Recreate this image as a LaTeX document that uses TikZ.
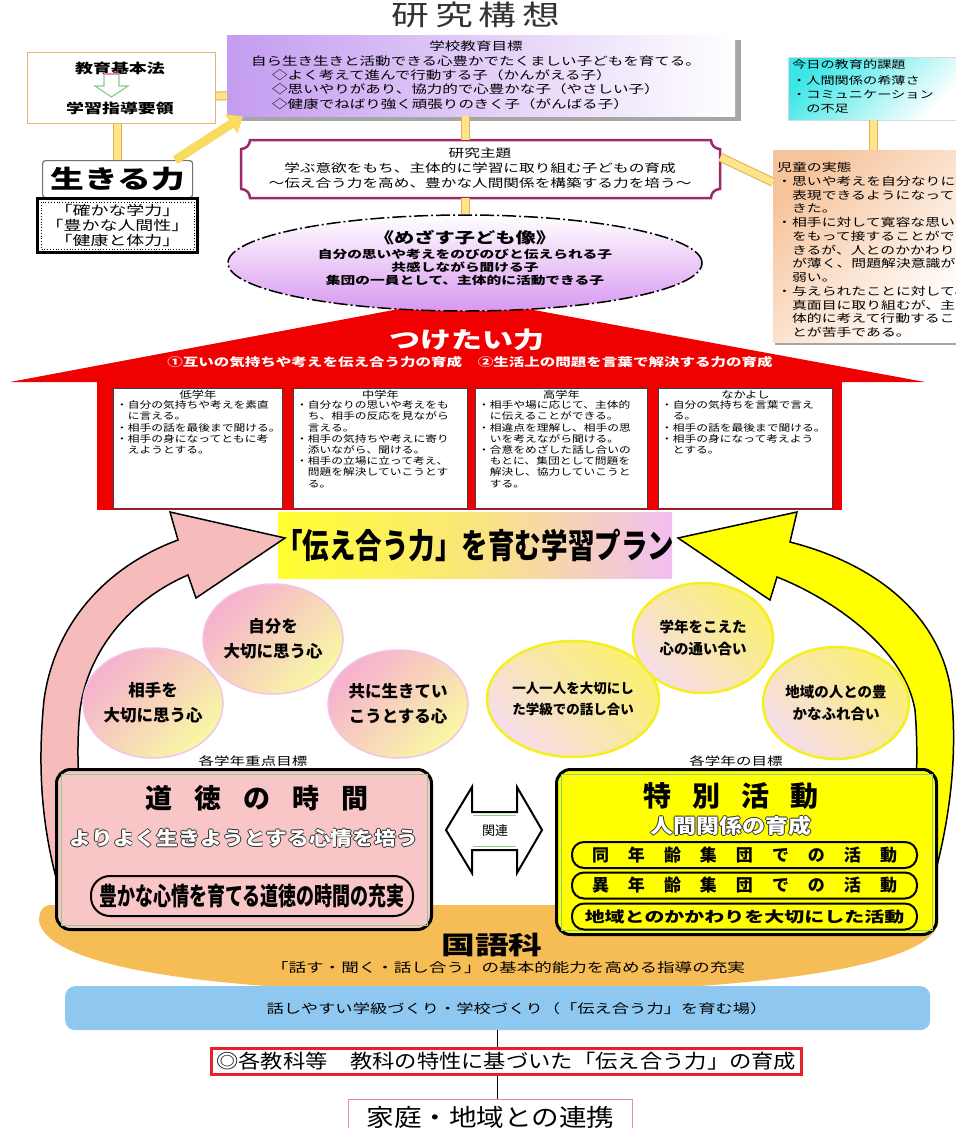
\documentclass[tikz,border=0pt]{standalone}
\usepackage{fontspec}
\usepackage{graphicx}
\usetikzlibrary{shapes.geometric,calc,arrows.meta}
\newfontfamily\jp[FakeStretch=1.35]{Noto Sans CJK JP}
\newfontfamily\jpg[FakeStretch=1.25]{Noto Sans CJK JP}
\newfontfamily\jpm[FakeStretch=1.15]{Noto Sans CJK JP}
\newfontfamily\jpn{Noto Sans CJK JP}
\newcommand{\fsz}[2]{\fontsize{#1}{#2}\selectfont}
\definecolor{titleg}{HTML}{333333}
\definecolor{tanc}{HTML}{E0B878}
\definecolor{tubeo}{HTML}{E0B050}
\definecolor{tubef}{HTML}{FFE48A}
\definecolor{goalp}{HTML}{C49CF0}
\definecolor{themec}{HTML}{9C2A6A}
\definecolor{ellp}{HTML}{D898F0}
\definecolor{redc}{HTML}{F00000}
\definecolor{bannerY}{HTML}{FFFF30}
\definecolor{bannerP}{HTML}{F2BEF2}
\definecolor{cpink}{HTML}{F6B0D0}
\definecolor{cyel}{HTML}{F8F8A4}
\definecolor{cborder}{HTML}{F2C4E8}
\definecolor{ryel}{HTML}{F4F020}
\definecolor{rfillY}{HTML}{FAF070}
\definecolor{rfillP}{HTML}{F6DCEB}
\definecolor{arrowpink}{HTML}{F6BCBC}
\definecolor{moralpink}{HTML}{F8C6C6}
\definecolor{tokuY}{HTML}{FFFF00}
\definecolor{greenl}{HTML}{8CCC8C}
\definecolor{orangec}{HTML}{F6BC56}
\definecolor{bluec}{HTML}{8EC8F0}
\definecolor{kyored}{HTML}{E8202A}
\definecolor{renkeic}{HTML}{E09090}
\definecolor{peach}{HTML}{F6C49C}
\definecolor{cyanc}{HTML}{3CE6E6}
\definecolor{outl}{HTML}{303030}
\definecolor{yarc}{HTML}{F8DC60}
\newcommand{\hollow}[1]{\leavevmode\rlap{\kern-0.8pt\textcolor{outl}{#1}}\rlap{\kern0.8pt\textcolor{outl}{#1}}\rlap{\raisebox{0.8pt}{\textcolor{outl}{#1}}}\rlap{\raisebox{-0.8pt}{\textcolor{outl}{#1}}}\textcolor{white}{#1}}
\begin{document}
\begin{tikzpicture}[x=1pt,y=-1pt,
  tube/.style={draw=tubeo, double=tubef, double distance=7pt, line width=1pt},
  gbox/.style={draw=black!75, fill=white, line width=1pt, anchor=north west, minimum height=120pt, inner sep=0pt},
  gtext/.style={anchor=north west, align=left, inner sep=0pt, font=\jpg\fsz{9.4}{11.2}},
  ghead/.style={inner sep=0pt, font=\jpg\fsz{9.8}{10}},
  lcirc/.style={ellipse, draw=cborder, line width=1.5pt, top color=cpink, bottom color=cyel, shading angle=45, align=center, inner sep=0pt, font=\jpn\bfseries\fsz{16.5}{25}},
  rcirc/.style={ellipse, draw=ryel, line width=2.5pt, top color=rfillY, bottom color=rfillP, shading angle=-45, align=center, inner sep=0pt, font=\jpn\bfseries\fsz{14.5}{22}},
  stad/.style={draw, fill=tokuY, line width=2pt, rounded corners=12pt, minimum width=345pt, minimum height=26pt, inner sep=0pt},
  bigbox/.style={draw, line width=3pt, rounded corners=14pt, anchor=north west, inner sep=0pt},
  plain/.style={inner sep=0pt},
]
\useasboundingbox (0,0) rectangle (956,1128);
\fill[white] (0,0) rectangle (956,1128);

% title
\node[plain, font=\jp\fsz{28}{28}, text=titleg] (title) at (476,15) {研\hspace{6pt}究\hspace{6pt}構\hspace{6pt}想};

% kihon box
\node[draw=tanc, fill=white, line width=1.2pt, minimum width=188pt, minimum height=71pt, anchor=north west, inner sep=0pt] (kihon) at (27,52) {};
\node[plain, font=\jp\bfseries\fsz{13.3}{14}] (kihon1) at (120,68) {教育基本法};
\node[plain, font=\jp\bfseries\fsz{13.3}{14}] (kihon2) at (120,108) {学習指導要領};
\filldraw[fill=white, draw=greenl, line width=1.2pt] (104,74) -- (119,74) -- (119,86) -- (128,86) -- (111.5,97) -- (95,86) -- (104,86) -- cycle;
\draw[draw=magenta!50, line width=1.2pt] (104,74) -- (119,74);

% ikiru
\node[draw=black!55, rounded corners=3pt, fill=white, line width=1.2pt, minimum width=150pt, minimum height=37pt, anchor=north west, inner sep=0pt, font=\jp\bfseries\fsz{25}{25}] (ikiru) at (42,160) {生きる力};
\node[draw, line width=3pt, fill=white, minimum width=160pt, minimum height=54pt, anchor=north west, align=center, inner sep=0pt, font=\jp\fsz{13.3}{15}] (ikiru2) at (36,197) {「確かな学力」\\「豊かな人間性」\\「健康と体力」};
\draw[dotted, line width=0.8pt] ($(ikiru2.north west)+(5,5)$) rectangle ($(ikiru2.south east)+(-5,-5)$);
\draw[tube] (ikiru.north |- kihon.south) -- (ikiru.north);

% goal box
\fill[black!35] (233,40) rectangle (741,121);
\node[anchor=north west, minimum width=508pt, minimum height=81pt, inner sep=0pt, left color=goalp, right color=white] (goal) at (227,35) {};
\node[plain, align=center, font=\jp\fsz{11.5}{14.5}] (goalA) at (476,53.5) {学校教育目標\\自ら生き生きと活動できる心豊かでたくましい子どもを育てる。};
\node[anchor=north west, align=left, inner sep=0pt, font=\jp\fsz{11.5}{14.5}] (goalB) at (272,69) {◇よく考えて進んで行動する子（かんがえる子）\\◇思いやりがあり、協力的で心豊かな子（やさしい子）\\◇健康でねばり強く頑張りのきく子（がんばる子）};
\draw[tube] ($(kihon.east)+(0,8)$) -- ($(goal.west)+(0,20)$);
\draw[draw=yarc, line width=9pt, -{Triangle[length=14pt,width=22pt]}] ($(ikiru.north east)+(-18,0)$) -- ($(goal.south west)+(16,0)$);

% theme box
\node[anchor=north west, minimum width=479pt, minimum height=58pt, inner sep=0pt] (themebox) at (241,140) {};
\filldraw[fill=white, draw=themec, line width=2.5pt] (250,140) -- (711,140) .. controls (711,145) and (715,149) .. (720,149) -- (720,189) .. controls (715,189) and (711,193) .. (711,198) -- (250,198) .. controls (250,193) and (246,189) .. (241,189) -- (241,149) .. controls (246,149) and (250,145) .. (250,140) -- cycle;
\node[plain, align=center, font=\jp\fsz{11.6}{15}] (theme) at (480,168) {研究主題\\学ぶ意欲をもち、主体的に学習に取り組む子どもの育成\\～伝え合う力を高め、豊かな人間関係を構築する力を培う～};

% right boxes
\node[anchor=north west, minimum width=170pt, minimum height=63pt, inner sep=0pt, draw=black!15, top color=cyanc, bottom color=white, shading angle=45] (kadai) at (788,57) {};
\node[anchor=north west, align=left, inner sep=0pt, font=\jp\fsz{10.5}{14}] (kadaiT) at (792,59) {今日の教育的課題\\[2pt]・人間関係の希薄さ\\・コミュニケーション\\　の不足};
\fill[black!35] (775,340) rectangle (956,345);
\node[anchor=north west, minimum width=190pt, minimum height=192pt, inner sep=0pt, top color=peach, bottom color=white, shading angle=45] (jidou) at (773,150) {};
\node[anchor=north west, align=left, inner sep=0pt, font=\jp\fsz{11}{13.75}] (jidouT) at (777,162) {児童の実態\\・思いや考えを自分なりに\\　表現できるようになって\\　きた。\\・相手に対して寛容な思い\\　をもって接することがで\\　きるが、人とのかかわり\\　が薄く、問題解決意識が\\　弱い。\\・与えられたことに対して、\\　真面目に取り組むが、主\\　体的に考えて行動するこ\\　とが苦手である。};
\draw[tube] (kadai.south) -- (kadai.south |- jidou.north);
\draw[tube] ($(themebox.east)+(0,-12)$) -- ($(jidou.west)+(0,-64)$);

% roof
\fill[redc] (10,382) -- (463,297) -- (925,382) -- cycle;
\node[fill=redc, anchor=north west, minimum width=745pt, minimum height=131pt, inner sep=0pt] (body) at (97,379) {};

% ellipse
\node[ellipse, draw, line width=1.5pt, dash pattern=on 14pt off 3pt on 2pt off 3pt, minimum width=474pt, minimum height=96pt, top color=white, bottom color=ellp, inner sep=0pt] (ell) at (465,263) {};
\node[plain, font=\jp\bfseries\fsz{15}{15}] (ellT) at (465,238) {《めざす子ども像》};
\node[plain, align=center, font=\jp\bfseries\fsz{10.9}{13}] (ellB) at (465,267) {自分の思いや考えをのびのびと伝えられる子\\共感しながら聞ける子\\集団の一員として、主体的に活動できる子};
\draw[tube] (ell.north |- goal.south) -- (ell.north |- themebox.north);
\draw[tube] (ell.north |- themebox.south) -- (ell.north);

\node[plain, text=white, font=\jp\bfseries\fsz{23}{23}] (tsuke) at (467,340) {つけたい力};
\node[plain, text=white, font=\jp\bfseries\fsz{11.5}{12}] (tsuke2) at (470,362) {①互いの気持ちや考えを伝え合う力の育成　②生活上の問題を言葉で解決する力の育成};

% grade boxes
\node[gbox, minimum width=169pt] (g1) at (113,388) {};
\node[gbox, minimum width=174pt] (g2) at (293,388) {};
\node[gbox, minimum width=172pt] (g3) at (475,388) {};
\node[gbox, minimum width=174pt] (g4) at (658,388) {};
\node[ghead] (g1h) at (g1.north |- 0,395) {低学年};
\node[ghead] (g2h) at (g2.north |- 0,395) {中学年};
\node[ghead] (g3h) at (g3.north |- 0,395) {高学年};
\node[ghead] (g4h) at (g4.north |- 0,395) {なかよし};
\node[gtext] (g1t) at (116,400.5) {・自分の気持ちや考えを素直\\　に言える。\\・相手の話を最後まで聞ける。\\・相手の身になってともに考\\　えようとする。};
\node[gtext] (g2t) at (296,400.5) {・自分なりの思いや考えをも\\　ち、相手の反応を見ながら\\　言える。\\・相手の気持ちや考えに寄り\\　添いながら、聞ける。\\・相手の立場に立って考え、\\　問題を解決していこうとす\\　る。};
\node[gtext] (g3t) at (478,400.5) {・相手や場に応じて、主体的\\　に伝えることができる。\\・相違点を理解し、相手の思\\　いを考えながら聞ける。\\・合意をめざした話し合いの\\　もとに、集団として問題を\\　解決し、協力していこうと\\　する。};
\node[gtext] (g4t) at (661,400.5) {・自分の気持ちを言葉で言え\\　る。\\・相手の話を最後まで聞ける。\\・相手の身になって考えよう\\　とする。};

% banner
\node[anchor=north west, minimum width=394pt, minimum height=66pt, inner sep=0pt, left color=bannerY, right color=bannerP, middle color=bannerY!60!bannerP] (plan) at (278,512) {};
\node[plain] (planT) at (plan.center) {\scalebox{0.78}[1]{\jpn\bfseries\fsz{34}{34}「伝え合う力」を育む学習プラン}};

% big curved arrows
\filldraw[fill=arrowpink, draw=black, line width=1.5pt] (58,885) .. controls (40,820) and (38,760) .. (44,700) .. controls (55,620) and (110,565) .. (178,540) -- (170,512) -- (285,538) -- (196,598) -- (188,575) .. controls (130,600) and (88,650) .. (80,710) .. controls (74,770) and (82,830) .. (95,885) -- cycle;
\filldraw[fill=tokuY, draw=black, line width=1.5pt] (932,885) .. controls (950,820) and (957,760) .. (952,700) .. controls (945,620) and (880,565) .. (790,542) -- (797,512) -- (678,538) -- (770,600) -- (777,577) .. controls (835,600) and (905,650) .. (915,710) .. controls (920,770) and (914,830) .. (905,885) -- cycle;

% circles
\node[lcirc, minimum width=140pt, minimum height=110pt] (c1) at (153,703) {相手を\\大切に思う心};
\node[lcirc, minimum width=134pt, minimum height=110pt] (c2) at (273,639) {自分を\\大切に思う心};
\node[lcirc, minimum width=136pt, minimum height=108pt] (c3) at (398,704) {共に生きてい\\こうとする心};
\node[rcirc, minimum width=146pt, minimum height=116pt, font=\jpn\bfseries\fsz{13.5}{21}] (c4) at (573,699) {一人一人を大切にし\\た学級での話し合い};
\node[rcirc, minimum width=140pt, minimum height=110pt] (c5) at (703,638) {学年をこえた\\心の通い合い};
\node[rcirc, minimum width=146pt, minimum height=112pt] (c6) at (836,703) {地域の人との豊\\かなふれ合い};
\node[plain, font=\jp\fsz{11.5}{12}] (lab1) at (253,761) {各学年重点目標};
\node[plain, font=\jp\fsz{11.5}{12}] (lab2) at (736,761) {各学年の目標};

% orange kokugo
\fill[orangec] (50,905) -- (925,905) .. controls (935,905) and (940,915) .. (938,925) .. controls (920,975) and (700,993) .. (480,993) .. controls (260,993) and (60,975) .. (40,925) .. controls (37,915) and (42,905) .. (50,905) -- cycle;
\node[plain, font=\jp\bfseries\fsz{25}{25}] (kokugo) at (492,945) {国語科};
\node[plain, font=\jp\fsz{13}{13}] (kokugo2) at (508,968) {「話す・聞く・話し合う」の基本的能力を高める指導の充実};

% moral box
\node[bigbox, fill=moralpink, minimum width=375pt, minimum height=160pt] (moral) at (55,768) {};
\draw[greenl, line width=1pt] ($(moral.north west)+(6,6)$) rectangle ($(moral.south east)+(-6,-6)$);
\node[plain, font=\jpn\bfseries\fsz{27}{27}] (moralT) at (257,798) {道\hspace{22pt}徳\hspace{22pt}の\hspace{22pt}時\hspace{22pt}間};
\node[plain, font=\jpm\bfseries\fsz{19}{19}] (moral2) at (244,838) {\hollow{よりよく生きようとする心情を培う}};
\node[draw, line width=2pt, rounded corners=19pt, minimum width=322pt, minimum height=40pt, anchor=north west, inner sep=0pt] (moral3) at (90,875) {\scalebox{0.72}[1]{\jpn\bfseries\fsz{25}{25}豊かな心情を育てる道徳の時間の充実}};

% kanren double arrow
\filldraw[fill=white, draw=black, line width=2pt] (446,830) -- (472,787) -- (472,812) -- (517,812) -- (517,787) -- (542,830) -- (517,873) -- (517,850) -- (472,850) -- (472,873) -- cycle;
\draw[greenl, line width=1pt] (473,815.5) -- (516,815.5) (473,846.5) -- (516,846.5);
\node[plain, font=\jpn\fsz{13}{13}] (kanren) at (495,831) {関連};

% toku box
\node[bigbox, fill=tokuY, minimum width=380pt, minimum height=165pt] (toku) at (555,768) {};
\draw[greenl, line width=1pt] ($(toku.north west)+(6,6)$) rectangle ($(toku.south east)+(-6,-6)$);
\node[plain, font=\jpn\bfseries\fsz{28}{28}] (tokuT) at (731,796) {特\hspace{21pt}別\hspace{21pt}活\hspace{21pt}動};
\node[plain, font=\jpm\bfseries\fsz{20}{20}] (toku2) at (731,826) {\hollow{人間関係の育成}};
\node[stad] (s1) at (744.5,855) {\jpn\bfseries\fsz{17}{17}\hbox to 305pt{同\hfill 年\hfill 齢\hfill 集\hfill 団\hfill で\hfill の\hfill 活\hfill 動}};
\node[stad] (s2) at (744.5,885.5) {\jpn\bfseries\fsz{17}{17}\hbox to 305pt{異\hfill 年\hfill 齢\hfill 集\hfill 団\hfill で\hfill の\hfill 活\hfill 動}};
\node[stad] (s3) at (744.5,916.5) {\jp\bfseries\fsz{14.8}{15}地域とのかかわりを大切にした活動};

% blue
\node[fill=bluec, rounded corners=10pt, minimum width=865pt, minimum height=44pt, anchor=north west, inner sep=0pt] (blue) at (65,986) {};
\node[plain, font=\jp\fsz{12.8}{13}] (blueT) at (517,1009) {話しやすい学級づくり・学校づくり（「伝え合う力」を育む場）};

% kyoka
\node[draw=kyored, fill=white, line width=2.5pt, minimum width=590pt, minimum height=26pt, anchor=north west, inner sep=0pt, font=\jpm\fsz{19.4}{20}] (kyoka) at (210,1047) {◎各教科等　教科の特性に基づいた「伝え合う力」の育成};
\node[draw=renkeic, fill=white, line width=1pt, minimum width=284pt, minimum height=36pt, anchor=north west, inner sep=0pt, font=\jpm\fsz{24}{24}] (renkei) at (348,1099) {家庭・地域との連携};
\draw[line width=1.5pt] (blue.south) -- (blue.south |- kyoka.north);
\draw[line width=1.5pt] (blue.south |- kyoka.south) -- (blue.south |- renkei.north);
\end{tikzpicture}
\end{document}
